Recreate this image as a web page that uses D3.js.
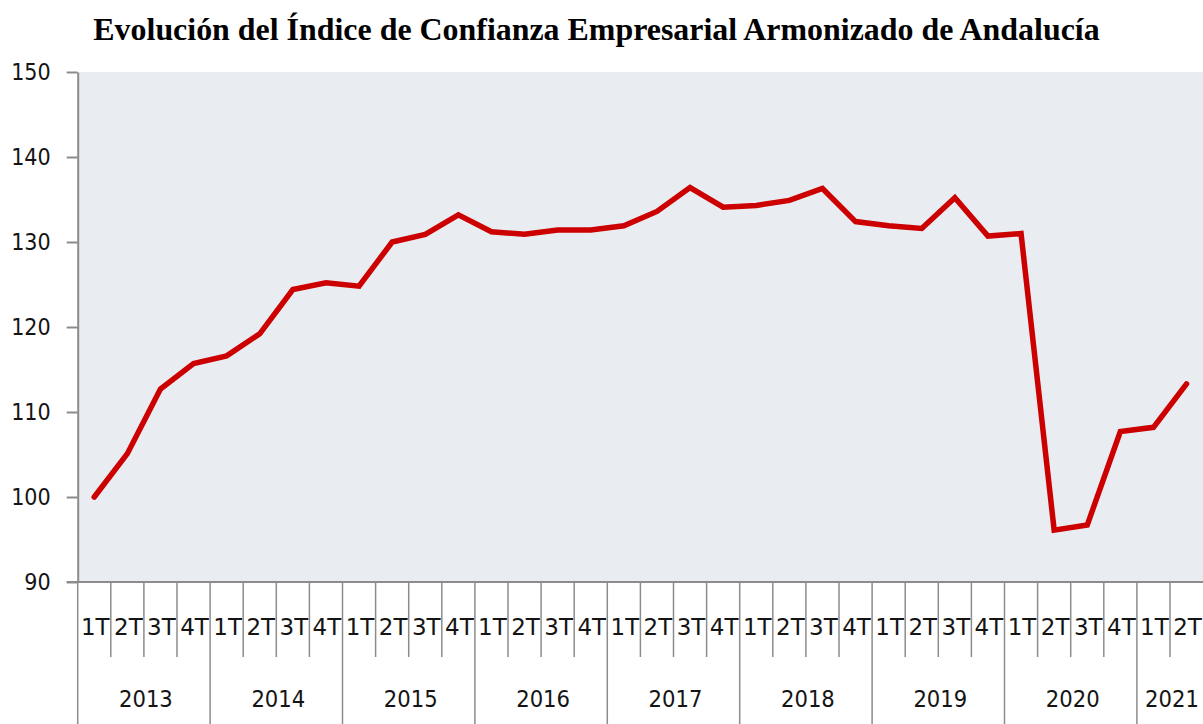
<!DOCTYPE html>
<html>
<head>
<meta charset="utf-8">
<script src="https://cdn.jsdelivr.net/npm/d3@7"></script>
<style>
  html, body { margin: 0; padding: 0; background: #fff; }
  svg { display: block; }
</style>
</head>
<body>
<svg id="chart" width="1203" height="724"></svg>
<script>
const title = "Evolución del Índice de Confianza Empresarial Armonizado de Andalucía";
const years = ["2013", "2014", "2015", "2016", "2017", "2018", "2019", "2020", "2021"];
const quarterNames = ["1T", "2T", "3T", "4T"];
const yearQuarters = [4, 4, 4, 4, 4, 4, 4, 4, 2];
const values = [
  100.0, 105.1, 112.7, 115.7,
  116.6, 119.2, 124.4, 125.2,
  124.8, 130.0, 130.9, 133.2,
  131.2, 130.9, 131.4, 131.4,
  131.9, 133.6, 136.4, 134.1,
  134.3, 134.9, 136.3, 132.4,
  131.9, 131.6, 135.2, 130.7,
  131.0, 96.1, 96.7, 107.7,
  108.2, 113.3
];
const yTicks = [90, 100, 110, 120, 130, 140, 150];

// build period list
const periods = [];
years.forEach((yr, yi) => {
  for (let q = 0; q < yearQuarters[yi]; q++) periods.push({ key: yr + "-" + quarterNames[q], year: yr, q: quarterNames[q] });
});
const data = periods.map((p, i) => ({ ...p, v: values[i] }));

const svg = d3.select("#chart");
const mLeft = 77.7, mRight = 1203.1, mTop = 72, mBottom = 582;

const x = d3.scaleBand().domain(periods.map(p => p.key)).range([mLeft, mRight]).paddingInner(0).paddingOuter(0);
const y = d3.scaleLinear().domain([90, 150]).range([mBottom, mTop]);

const axisColor = "#8c8c8c";
const textColor = "#141414";

// plot background
svg.append("rect")
  .attr("x", mLeft).attr("y", mTop)
  .attr("width", mRight - mLeft).attr("height", mBottom - mTop)
  .attr("fill", "#e9edf1");

// title
const t = svg.append("text")
  .attr("x", 596.5).attr("y", 40)
  .attr("text-anchor", "middle")
  .attr("font-family", "'Liberation Serif', 'Times New Roman', serif")
  .attr("font-weight", "bold")
  .attr("font-size", 29)
  .attr("fill", "#000")
  .text(title);
const tw = t.node().getComputedTextLength();
t.attr("font-size", 29 * 1007 / tw);

// y axis
const yAxis = d3.axisLeft(y).tickValues(yTicks).tickSize(11).tickPadding(16).tickSizeOuter(0);
const gy = svg.append("g").attr("transform", `translate(${mLeft},0)`).call(yAxis);
gy.select(".domain").attr("stroke", axisColor).attr("stroke-width", 2);
gy.selectAll(".tick line").attr("stroke", axisColor).attr("stroke-width", 2);
gy.selectAll(".tick text")
  .attr("font-family", "'DejaVu Sans Condensed', 'DejaVu Sans', sans-serif")
  .attr("font-size", 23)
  .attr("fill", textColor);

// x axis baseline
svg.append("line")
  .attr("x1", mLeft - 11).attr("x2", mRight)
  .attr("y1", mBottom).attr("y2", mBottom)
  .attr("stroke", axisColor).attr("stroke-width", 2);

// quarter separators
const gx = svg.append("g");
data.forEach((d, i) => {
  const xs = x(d.key);
  const isYearStart = d.q === "1T";
  gx.append("line")
    .attr("x1", xs).attr("x2", xs)
    .attr("y1", mBottom).attr("y2", isYearStart ? 724 : 657)
    .attr("stroke", axisColor).attr("stroke-width", 1.5);
  gx.append("text")
    .attr("x", xs + x.bandwidth() / 2 + 1)
    .attr("y", 635)
    .attr("text-anchor", "middle")
    .attr("font-family", "'DejaVu Sans', sans-serif")
    .attr("font-size", 23)
    .attr("fill", textColor)
    .text(d.q);
});

// year labels
years.forEach(yr => {
  const ps = data.filter(d => d.year === yr);
  const x0 = x(ps[0].key), x1 = x(ps[ps.length - 1].key) + x.bandwidth();
  gx.append("text")
    .attr("x", (x0 + x1) / 2 + 2)
    .attr("y", 706.5)
    .attr("text-anchor", "middle")
    .attr("font-family", "'DejaVu Sans Condensed', 'DejaVu Sans', sans-serif")
    .attr("font-size", 23.5)
    .attr("fill", textColor)
    .text(yr);
});

// line
const line = d3.line()
  .x(d => x(d.key) + x.bandwidth() / 2)
  .y(d => y(d.v));
svg.append("path")
  .datum(data)
  .attr("d", line)
  .attr("fill", "none")
  .attr("stroke", "#cc0000")
  .attr("stroke-width", 5.5)
  .attr("stroke-linejoin", "miter")
  .attr("stroke-linecap", "round");
</script>
</body>
</html>
